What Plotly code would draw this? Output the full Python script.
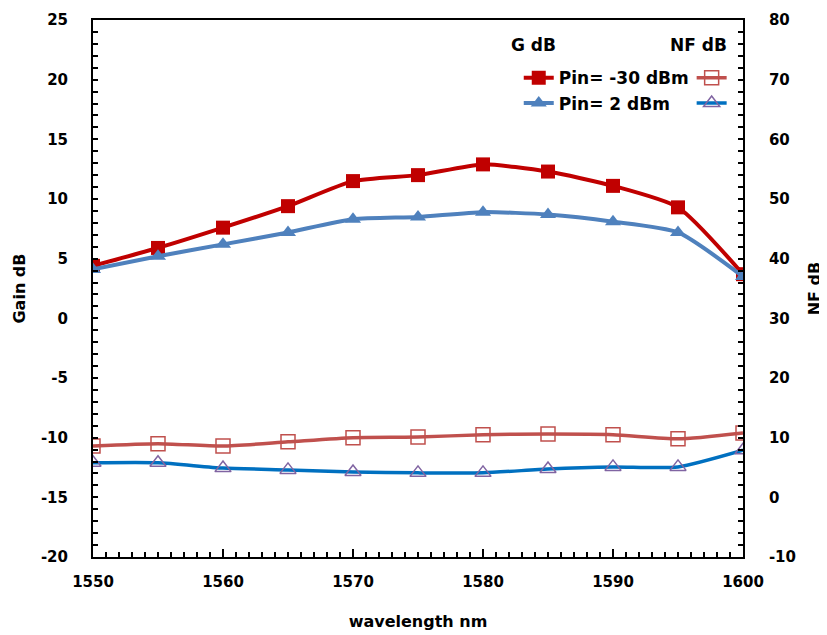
import plotly.graph_objects as go

wavelength = [1550, 1555, 1560, 1565, 1570, 1575, 1580, 1585, 1590, 1595, 1600]
gain_m30 = [4.4, 5.9, 7.6, 9.4, 11.5, 12.0, 12.9, 12.3, 11.1, 9.3, 3.7]
gain_p2 = [4.1, 5.2, 6.2, 7.2, 8.3, 8.5, 8.9, 8.7, 8.1, 7.2, 3.5]
nf_m30 = [8.6, 9.0, 8.6, 9.3, 10.0, 10.1, 10.5, 10.6, 10.5, 9.8, 10.8]
nf_p2 = [5.8, 5.8, 4.9, 4.6, 4.25, 4.1, 4.1, 4.75, 5.1, 5.1, 7.9]

gain_ticks = list(range(-20, 26, 5))
nf_ticks = list(range(-10, 81, 10))
wl_ticks = list(range(1550, 1601, 10))
gain_minor = list(range(-20, 26, 1))
nf_minor = list(range(-10, 81, 2))
wl_minor = list(range(1550, 1601, 1))

FAM = "DejaVu Sans"
TF = dict(family=FAM, size=15, color="black", weight="bold")
LF = dict(family=FAM, size=17, color="black", weight="bold")
AF = dict(family=FAM, size=16, color="black", weight="bold")

fig = go.Figure()
fig.add_trace(go.Scatter(x=wavelength, y=gain_m30, name="Pin= -30 dBm", mode="lines+markers",
                         line=dict(color="#C00000", width=4, shape="spline", smoothing=0.6),
                         marker=dict(symbol="square", size=14, color="#C00000"),
                         legend="legend", yaxis="y"))
fig.add_trace(go.Scatter(x=wavelength, y=gain_p2, name="Pin= 2 dBm", mode="lines+markers",
                         line=dict(color="#4F81BD", width=4, shape="spline", smoothing=0.6),
                         marker=dict(symbol="triangle-up", size=14, color="#4F81BD"),
                         legend="legend", yaxis="y"))
fig.add_trace(go.Scatter(x=wavelength, y=nf_m30, name=" ", mode="lines+markers",
                         line=dict(color="#C0504D", width=3.5, shape="spline", smoothing=0.6),
                         marker=dict(symbol="square-open", size=14, color="#C0504D", line=dict(width=1.5)),
                         legend="legend2", yaxis="y2"))
fig.add_trace(go.Scatter(x=wavelength, y=nf_p2, name=" ", mode="lines+markers",
                         line=dict(color="#0070C0", width=3.5, shape="spline", smoothing=0.6),
                         marker=dict(symbol="triangle-up-open", size=14, color="#8064A2", line=dict(width=1.5)),
                         legend="legend2", yaxis="y2"))

axis_common = dict(showline=True, linecolor="black", linewidth=2, ticks="inside", tickcolor="black",
                   tickwidth=2, showgrid=False, zeroline=False, tickfont=TF, automargin=False,
                   tickmode="array")


def minor(vals):
    return dict(tickmode="array", tickvals=vals, ticks="inside", ticklen=5, tickcolor="black", tickwidth=1.5)


NB = "\u00a0" * 4

fig.update_layout(
    width=819, height=627,
    margin=dict(l=85, r=84, t=12, b=78),
    paper_bgcolor="white", plot_bgcolor="white",
    showlegend=True,
    xaxis=dict(range=[1550, 1600], tickvals=wl_ticks, ticktext=[str(v) for v in wl_ticks], mirror=True,
               ticklen=8, minor=minor(wl_minor),
               title=dict(text="wavelength nm", font=AF, standoff=26), ticklabelstandoff=10, **axis_common),
    yaxis=dict(range=[-20, 25], tickvals=gain_ticks, ticktext=[str(v) for v in gain_ticks], mirror=False,
               ticklen=5, minor=minor(gain_minor),
               title=dict(text="Gain dB", font=AF, standoff=11), ticklabelstandoff=20, **axis_common),
    yaxis2=dict(range=[-10, 80], tickvals=nf_ticks, ticktext=[NB + str(v) for v in nf_ticks], overlaying="y",
                side="right", ticklen=5, minor=minor(nf_minor),
                title=dict(text="NF dB", font=AF, standoff=14), **axis_common),
    legend=dict(x=0.655, y=0.925, xanchor="left", yanchor="top", bgcolor="rgba(0,0,0,0)",
                font=LF, tracegroupgap=0, itemwidth=30),
    legend2=dict(x=0.921, y=0.925, xanchor="left", yanchor="top", bgcolor="rgba(0,0,0,0)",
                 font=LF, tracegroupgap=0, itemwidth=30),
    annotations=[
        dict(text="G dB", x=0.678, y=0.953, xref="paper", yref="paper", showarrow=False, font=LF,
             xanchor="center", yanchor="middle"),
        dict(text="NF dB", x=0.932, y=0.953, xref="paper", yref="paper", showarrow=False, font=LF,
             xanchor="center", yanchor="middle"),
    ],
)

fig.write_html("out.html")
